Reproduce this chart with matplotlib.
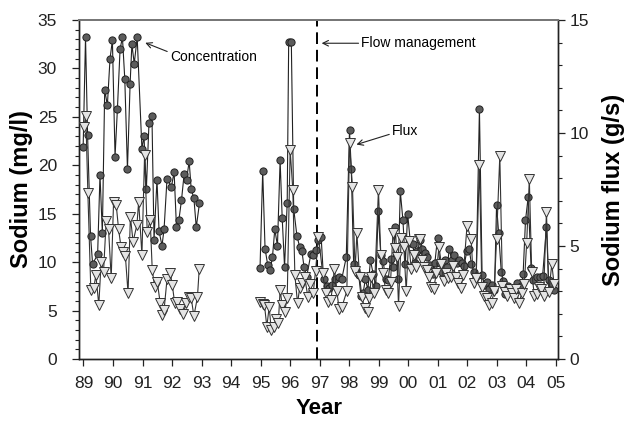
import matplotlib
matplotlib.use('Agg')
import matplotlib.pyplot as plt
import numpy as np
from matplotlib.ticker import MultipleLocator

plt.rcParams['font.family'] = ['Liberation Sans', 'DejaVu Sans']

# ---------------- data ----------------
conc_year = [
    1988.99, 1989.07, 1989.14, 1989.24, 1989.31, 1989.48, 1989.56, 1989.64, 1989.72, 1989.81,
    1989.90, 1989.98, 1990.07, 1990.15, 1990.24, 1990.32, 1990.40, 1990.49, 1990.58, 1990.64,
    1990.72, 1990.82, 1990.98, 1991.05, 1991.13, 1991.22, 1991.32, 1991.39, 1991.49, 1991.56,
    1991.66, 1991.73, 1991.83, 1991.98, 1992.07, 1992.15, 1992.23, 1992.32, 1992.41, 1992.49,
    1992.58, 1992.65, 1992.74, 1992.82, 1992.93,
    1994.98, 1995.07, 1995.15, 1995.24, 1995.32, 1995.40, 1995.48, 1995.57, 1995.66, 1995.73,
    1995.81, 1995.90, 1995.95, 1996.04, 1996.12, 1996.23, 1996.32, 1996.40, 1996.47, 1996.56,
    1996.70, 1996.79, 1996.88, 1996.96, 1997.05, 1997.13, 1997.24, 1997.33, 1997.41, 1997.53,
    1997.67, 1997.75, 1997.90, 1998.01, 1998.07, 1998.15, 1998.24, 1998.32, 1998.40, 1998.47,
    1998.55, 1998.63, 1998.72, 1998.81, 1998.90, 1998.98, 1999.07, 1999.15, 1999.23, 1999.32,
    1999.40, 1999.48, 1999.56, 1999.65, 1999.73, 1999.82, 1999.90, 1999.98, 2000.07, 2000.15,
    2000.24, 2000.31, 2000.41, 2000.48, 2000.56, 2000.65, 2000.74, 2000.85, 2000.90, 2000.99,
    2001.07, 2001.15, 2001.24, 2001.32, 2001.39, 2001.47, 2001.56, 2001.64, 2001.72, 2001.81,
    2001.89, 2001.98, 2002.06, 2002.14, 2002.22, 2002.30, 2002.41, 2002.50, 2002.58, 2002.67,
    2002.75, 2002.84, 2002.92, 2002.99, 2003.06, 2003.15, 2003.22, 2003.29, 2003.39, 2003.48,
    2003.58, 2003.67, 2003.75, 2003.83, 2003.89, 2003.97, 2004.06, 2004.16, 2004.24, 2004.35,
    2004.46, 2004.55, 2004.68, 2004.75, 2004.84, 2004.94,
]
conc_mgl = [
    21.9, 33.2, 23.1, 12.7, 9.8, 10.8, 19.0, 13.0, 27.8, 26.2,
    31.0, 32.9, 20.9, 25.8, 32.0, 33.2, 28.9, 19.6, 28.4, 32.5,
    30.5, 33.2, 21.7, 23.0, 17.5, 24.4, 25.1, 12.3, 18.5, 13.2,
    11.7, 13.4, 18.6, 17.8, 19.3, 13.6, 14.3, 16.4, 19.1, 18.5,
    20.4, 17.5, 16.6, 13.6, 16.1,
    9.4, 19.4, 11.4, 9.7, 9.2, 10.5, 13.4, 11.7, 20.5, 14.6,
    9.5, 16.1, 32.7, 32.7, 15.5, 12.7, 11.6, 11.1, 9.5, 8.5,
    10.8, 10.7, 11.3, 12.3, 12.6, 8.3, 7.5, 7.3, 7.6, 8.3,
    8.5, 8.3, 10.5, 23.6, 19.6, 9.8, 9.2, 8.7, 6.5, 6.8,
    8.3, 7.1, 10.2, 8.8, 7.5, 15.3, 10.7, 10.1, 8.3, 8.2,
    10.3, 9.5, 13.6, 8.3, 17.3, 14.3, 9.8, 15.0, 12.0, 11.9,
    9.9, 11.1, 12.3, 11.4, 10.9, 10.5, 9.7, 8.8, 9.9, 12.5,
    9.9, 9.0, 10.2, 9.5, 11.4, 10.2, 10.7, 9.9, 10.2, 9.9,
    9.6, 11.1, 11.4, 9.8, 9.0, 8.6, 25.8, 8.7, 7.6, 7.9,
    7.2, 7.6, 7.1, 15.9, 13.0, 9.0, 8.1, 6.7, 7.5, 7.3,
    7.0, 7.8, 7.2, 7.5, 8.8, 14.3, 16.7, 9.4, 8.2, 8.5,
    8.5, 8.6, 13.6, 8.2, 7.8, 7.1,
]

flux_year = [
    1989.01, 1989.08, 1989.15, 1989.25, 1989.35, 1989.42, 1989.52, 1989.60, 1989.68, 1989.77,
    1989.85, 1989.94, 1990.02, 1990.11, 1990.19, 1990.27, 1990.34, 1990.42, 1990.51, 1990.59,
    1990.68, 1990.81, 1990.87, 1990.98, 1991.07, 1991.16, 1991.26, 1991.33, 1991.41, 1991.50,
    1991.60, 1991.66, 1991.73, 1991.83, 1991.94, 1992.01, 1992.09, 1992.18, 1992.27, 1992.37,
    1992.48, 1992.57, 1992.65, 1992.74, 1992.86, 1992.92,
    1994.98, 1995.07, 1995.13, 1995.21, 1995.29, 1995.36, 1995.45, 1995.53, 1995.60, 1995.66,
    1995.73, 1995.81, 1995.90, 1996.00, 1996.09, 1996.16, 1996.25, 1996.32, 1996.41, 1996.49,
    1996.60, 1996.68, 1996.78, 1996.86, 1996.96, 1997.10, 1997.20, 1997.29, 1997.38, 1997.50,
    1997.58, 1997.66, 1997.75, 1997.92, 1998.01, 1998.11, 1998.20, 1998.26, 1998.35, 1998.43,
    1998.52, 1998.62, 1998.68, 1998.75, 1998.85, 1998.99, 1999.07, 1999.15, 1999.23, 1999.32,
    1999.40, 1999.48, 1999.56, 1999.61, 1999.67, 1999.76, 1999.85, 1999.93, 2000.01, 2000.10,
    2000.18, 2000.27, 2000.35, 2000.40, 2000.47, 2000.54, 2000.62, 2000.70, 2000.78, 2000.86,
    2000.95, 2001.04, 2001.12, 2001.20, 2001.28, 2001.36, 2001.45, 2001.53, 2001.61, 2001.70,
    2001.78, 2001.86, 2001.99, 2002.13, 2002.21, 2002.30, 2002.41, 2002.49, 2002.58, 2002.66,
    2002.75, 2002.82, 2002.91, 2002.99, 2003.10, 2003.19, 2003.28, 2003.36, 2003.44, 2003.51,
    2003.58, 2003.66, 2003.75, 2003.84, 2003.93, 2004.01, 2004.10, 2004.18, 2004.27, 2004.36,
    2004.43, 2004.50, 2004.58, 2004.68, 2004.76, 2004.86, 2004.94,
]
flux_gs = [
    10.25, 10.75, 7.33, 3.05, 3.13, 3.72, 2.39, 4.31, 3.86, 6.12,
    5.74, 3.57, 6.96, 6.81, 5.74, 4.97, 4.75, 4.56, 2.91, 6.30,
    5.19, 5.93, 6.96, 4.60, 9.03, 5.63, 6.15, 3.94, 3.20, 3.42,
    2.46, 1.95, 2.17, 3.53, 3.79, 3.27, 2.46, 2.54, 2.20, 1.99,
    2.46, 2.73, 2.69, 1.90, 2.73, 3.97,
    2.50, 2.45, 2.39, 1.43, 2.31, 1.28, 1.43, 1.75, 1.60, 3.05,
    2.39, 2.09, 2.68, 9.25, 7.48, 3.72, 2.46, 3.13, 3.35, 3.64,
    2.75, 3.30, 2.90, 3.90, 5.41, 3.80, 2.90, 2.50, 2.60, 4.00,
    3.00, 2.20, 2.30, 3.00, 9.54, 7.62, 3.90, 5.56, 3.64, 2.75,
    2.24, 2.10, 2.70, 3.64, 2.90, 7.48, 4.60, 3.80, 3.05, 2.93,
    3.40, 5.56, 4.90, 4.53, 2.35, 5.34, 4.97, 3.00, 5.20, 4.00,
    4.60, 4.08, 5.30, 5.30, 4.40, 4.08, 3.94, 3.64, 3.20, 3.10,
    3.80, 4.97, 4.20, 3.46, 3.80, 3.60, 3.64, 4.10, 3.64, 3.35,
    3.13, 3.70, 5.90, 5.30, 3.35, 3.60, 8.60, 3.20, 2.80, 2.68,
    2.40, 2.49, 3.00, 5.30, 9.00, 3.23, 2.97, 2.80, 3.10, 2.90,
    2.70, 3.10, 2.46, 2.90, 3.30, 5.15, 7.95, 3.86, 2.80, 2.88,
    3.20, 3.10, 2.80, 6.52, 2.95, 4.20, 3.30,
]

year_ticks = list(range(1989, 2006))
year_labels = ['89', '90', '91', '92', '93', '94', '95', '96', '97', '98',
               '99', '00', '01', '02', '03', '04', '05']
flow_mgmt_year = 1996.92


def with_gaps(x, y, gap=1.0):
    x = np.asarray(x, float)
    y = np.asarray(y, float)
    idx = np.where(np.diff(x) > gap)[0] + 1
    return np.insert(x, idx, np.nan), np.insert(y, idx, np.nan)


fig = plt.figure(figsize=(6.28, 4.21), dpi=100)
ax = fig.add_axes([0.1263, 0.1473, 0.7622, 0.8052])
ax2 = ax.twinx()

cx, cy = with_gaps(conc_year, conc_mgl)
fx, fy = with_gaps(flux_year, flux_gs)

ax.plot(cx, cy, color='#222222', lw=0.8, marker='o', ms=5.2,
        mfc='#5c5c5c', mec='#222222', mew=0.7, zorder=3)
ax2.plot(fx, fy, color='#333333', lw=0.8, marker='v', ms=6.8,
         mfc='#e4e4e4', mec='#333333', mew=0.7, zorder=3)

ax.axvline(flow_mgmt_year, color='black', lw=1.4, ls=(0, (6, 3)), zorder=2)

ax.set_xlim(1988.86, 2005.07)
ax.set_ylim(0, 35)
ax2.set_ylim(0, 15)

ax.set_xticks(year_ticks)
ax.set_xticklabels(year_labels)
ax.yaxis.set_major_locator(MultipleLocator(5))
ax.yaxis.set_minor_locator(MultipleLocator(1))
ax2.yaxis.set_major_locator(MultipleLocator(5))
ax2.yaxis.set_minor_locator(MultipleLocator(1))

for a in (ax, ax2):
    a.tick_params(axis='both', which='major', direction='out', length=5,
                  width=0.9, labelsize=12.5, colors='#222222')
    a.tick_params(axis='both', which='minor', direction='out', length=3,
                  width=0.8, colors='#222222')
    for s in a.spines.values():
        s.set_color('#222222')
        s.set_linewidth(1.0)
    a.spines['top'].set_color('#777777')
    a.spines['top'].set_linewidth(1.4)

ax.tick_params(axis='y', which='major', pad=11)
ax.tick_params(axis='x', which='major', pad=7)

ax.set_xlabel('Year', fontsize=16, fontweight='bold', labelpad=5)
ax.set_ylabel('Sodium (mg/l)', fontsize=17, fontweight='bold', labelpad=3)
ax2.set_ylabel('Sodium flux (g/s)', fontsize=17, fontweight='bold', labelpad=9)

arrow = dict(arrowstyle='->', color='#222222', lw=0.8, shrinkA=0, shrinkB=1)
ax.annotate('Concentration', xy=(1991.05, 32.7), xytext=(1991.93, 31.2),
            fontsize=10, ha='left', va='center',
            arrowprops=dict(arrow, relpos=(0, 0.8)))
ax.annotate('Flow management', xy=(1997.02, 32.6), xytext=(1998.41, 32.6),
            fontsize=10, ha='left', va='center',
            arrowprops=dict(arrow, relpos=(0, 0.5)))
ax2.annotate('Flux', xy=(1998.2, 9.47), xytext=(1999.45, 10.1),
             fontsize=10, ha='left', va='center',
             arrowprops=dict(arrow, relpos=(0, 0.3)))

fig.savefig('out.png', dpi=100)
